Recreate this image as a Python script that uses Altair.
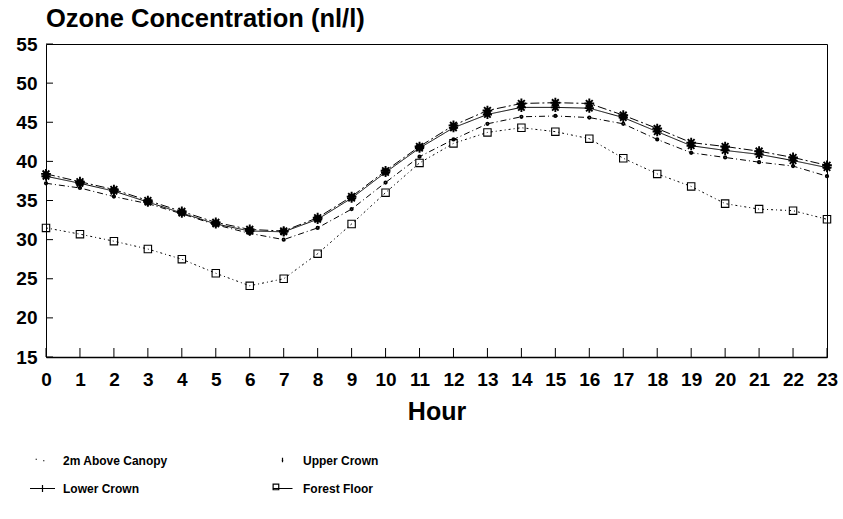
import altair as alt
import pandas as pd

# Diurnal ozone profile at four heights in the stand
hours = list(range(24))
# order follows the legend grid, which is filled column by column
series_names = ["2m Above Canopy", "Lower Crown", "Upper Crown", "Forest Floor"]

above_canopy = [37.2, 36.6, 35.5, 34.6, 33.3, 31.9, 30.8, 30.0, 31.5, 33.9, 37.3, 40.6,
                42.8, 44.8, 45.7, 45.8, 45.6, 44.8, 42.8, 41.1, 40.5, 39.9, 39.4, 38.1]
lower_crown = [38.1, 37.2, 36.2, 34.8, 33.4, 32.0, 31.1, 31.0, 32.6, 35.3, 38.6, 41.7,
               44.3, 46.0, 46.9, 46.9, 46.8, 45.6, 43.8, 42.0, 41.4, 40.9, 40.1, 39.2]
upper_crown = [38.4, 37.4, 36.4, 35.0, 33.6, 32.2, 31.3, 31.1, 32.8, 35.5, 38.8, 41.9,
               44.6, 46.5, 47.4, 47.5, 47.4, 45.9, 44.2, 42.4, 41.9, 41.3, 40.5, 39.5]
forest_floor = [31.5, 30.7, 29.8, 28.8, 27.5, 25.7, 24.1, 25.0, 28.2, 32.0, 36.0, 39.8,
                42.3, 43.7, 44.3, 43.8, 42.9, 40.4, 38.4, 36.8, 34.6, 33.9, 33.7, 32.6]

y_ticks = [15, 20, 25, 30, 35, 40, 45, 50, 55]
x_ticks = hours

FONT = "Liberation Sans"
W, H = 781, 313

rows = []
for name, vals in zip(series_names, [above_canopy, lower_crown, upper_crown, forest_floor]):
    for h, v in zip(hours, vals):
        rows.append({"hour": h, "ozone": v, "series": name})
df = pd.DataFrame(rows)

x_scale = alt.Scale(domain=[0, 23], nice=False, zero=False)
y_scale = alt.Scale(domain=[15, 55], nice=False, zero=False)

x_enc = alt.X("hour:Q", scale=x_scale,
              axis=alt.Axis(values=x_ticks, format="d", title="Hour", labelPadding=13,
                            labelFlush=False, titlePadding=10, titleFontSize=25,
                            titleFont=FONT, titleFontWeight="bold", titleColor="black",
                            domain=True, domainColor="black", domainWidth=1.6))
y_enc = alt.Y("ozone:Q", scale=y_scale,
              axis=alt.Axis(values=y_ticks, format="d", title=None, labelPadding=9,
                            labelFlush=False, domain=False))

base = alt.Chart(df)

# line dash and marker for each height
ASTERISK = "M-1,0L1,0M0,-1L0,1M-0.7,-0.7L0.7,0.7M-0.7,0.7L0.7,-0.7"
styles = {
    "2m Above Canopy": dict(dash=[6, 3, 1, 3], shape="circle", size=6, sw=1.8),
    "Upper Crown": dict(dash=[9, 3, 2, 3], shape=ASTERISK, size=95, sw=1.9),
    "Lower Crown": dict(dash=[1, 0], shape=ASTERISK, size=85, sw=1.9),
    "Forest Floor": dict(dash=[2, 3, 1, 3], shape="square", size=55, sw=1.1),
}

series_layers = []
for name, st in styles.items():
    sub = base.transform_filter(alt.datum.series == name)
    series_layers.append(
        sub.mark_line(color="black", strokeWidth=1, strokeDash=st["dash"])
        .encode(x=x_enc, y=y_enc)
    )
    series_layers.append(
        sub.mark_point(color="black", filled=False, opacity=1, shape=st["shape"],
                       size=st["size"], strokeWidth=st["sw"])
        .encode(x=x_enc, y=y_enc)
    )

# inward tick marks along the left and bottom edges
ytick_rules = alt.Chart(pd.DataFrame({"ozone": y_ticks})).mark_rule(
    color="black", strokeWidth=1).encode(y=y_enc, x=alt.value(0), x2=alt.value(7))
xtick_rules = alt.Chart(pd.DataFrame({"hour": x_ticks})).mark_rule(
    color="black", strokeWidth=1).encode(x=x_enc, y=alt.value(H), y2=alt.value(H - 9))

# legend keys: line segment with the marker of each height (same order as series_names)
legend_shapes = [
    "M-0.55,-0.12L-0.45,-0.12M0.05,0L0.15,0",
    "M-1,0L1,0M0,-0.28L0,0.28",
    "M0,-0.25L0,0.12M-0.06,-0.02L0.06,-0.02",
    "M-0.8,0L0.8,0M-0.75,-0.35L-0.3,-0.35L-0.3,0.1L-0.75,0.1Z",
]
legend_layer = base.mark_point(
    color="black", filled=False, size=625, strokeWidth=1.2, opacity=0
).encode(
    x=x_enc, y=y_enc,
    shape=alt.Shape("series:N",
                    scale=alt.Scale(domain=series_names, range=legend_shapes),
                    legend=alt.Legend(title=None, orient="none", legendX=-17, legendY=403,
                                      columns=2, columnPadding=101, rowPadding=8,
                                      padding=0, symbolSize=625, symbolStrokeWidth=1.2,
                                      symbolStrokeColor="black", symbolOpacity=1,
                                      labelOffset=7, labelFont=FONT, labelFontSize=12,
                                      labelFontWeight="bold", labelColor="black")),
)

chart = alt.layer(
    *series_layers, ytick_rules, xtick_rules, legend_layer
).properties(
    width=W, height=H,
    autosize=alt.AutoSizeParams(type="none"),
    padding={"left": 46, "top": 44, "right": 16, "bottom": 162},
    title=alt.TitleParams("Ozone Concentration (nl/l)", anchor="start", frame="group",
                          font=FONT, fontSize=25.5, fontWeight="bold", color="black",
                          offset=3),
).configure_axis(
    labelFont=FONT, labelFontSize=19, labelFontWeight="bold", labelColor="black",
    grid=False, ticks=False,
).configure_view(
    stroke="black", strokeWidth=1,
)

chart.save("out.html", embed_options={"renderer": "svg", "actions": False})
